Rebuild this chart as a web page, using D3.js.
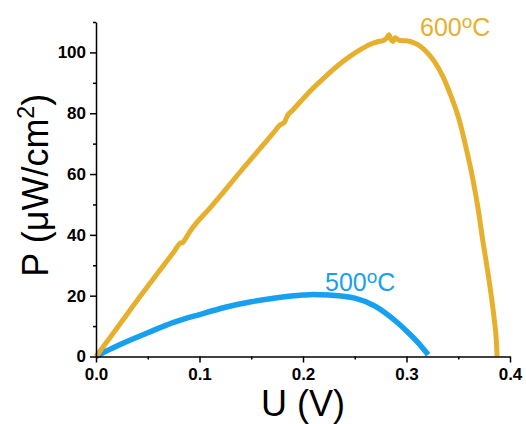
<!DOCTYPE html>
<html>
<head>
<meta charset="utf-8">
<title>P-U curves</title>
<script src="https://cdn.jsdelivr.net/npm/d3@7"></script>
<style>
  body { margin: 0; background: #fff; }
  svg { font-family: Arial, "Liberation Sans", sans-serif; }
  .tick text { font-size: 17px; font-weight: bold; fill: #000; }
  .domain, .tick line { stroke: #000; stroke-width: 1.5px; }
</style>
</head>
<body>
<div id="chart"></div>
<script>
// readings: U in volts, P in uW/cm2
var u600 = [0, 0.02, 0.0425, 0.06, 0.076, 0.081, 0.084, 0.088, 0.091, 0.11, 0.123, 0.14, 0.158, 0.172,
            0.178, 0.182, 0.185, 0.19, 0.205, 0.219, 0.232, 0.245, 0.255, 0.2645, 0.272, 0.278, 0.281,
            0.283, 0.285, 0.287, 0.289, 0.291, 0.294, 0.3, 0.306, 0.313, 0.319, 0.327, 0.335, 0.343,
            0.351, 0.358, 0.364, 0.369, 0.374, 0.378, 0.382, 0.385, 0.387, 0.3875];
var p600 = [0, 9.2, 19.7, 27.6, 34.8, 37.2, 37.6, 39.6, 41.2, 48.8, 54.0, 61.0, 68.2, 73.8,
            76.2, 77.0, 79.2, 81.0, 86.6, 91.2, 95.2, 98.6, 100.8, 102.6, 103.5, 104.0, 104.8,
            105.8, 104.2, 103.6, 104.8, 104.4, 103.9, 103.8, 103.3, 102.1, 100.3, 97.0, 92.2, 85.6,
            77.7, 68, 58.5, 49, 37.5, 29, 19.7, 11.5, 4, 0];

var u500 = [0, 0.01, 0.025, 0.05, 0.075, 0.1, 0.125, 0.15, 0.175, 0.2, 0.21, 0.225, 0.25,
            0.27, 0.29, 0.3, 0.31, 0.321];
var p500 = [0, 1.8, 4.2, 7.8, 11.2, 13.8, 16.2, 18.0, 19.3, 20.2, 20.4, 20.2, 19.2,
            16.5, 11.5, 8.4, 5.0, 0.6];

var xTicks = [0, 0.1, 0.2, 0.3, 0.4],
    xMinor = [0.05, 0.15, 0.25, 0.35],
    yTicks = [0, 20, 40, 60, 80, 100],
    yMinor = [10, 30, 50, 70, 90, 110];

var width = 526, height = 424;
var gold = '#e6b02e', blue = '#17a0f0';

var svg = d3.select('#chart').append('svg')
            .attr('width', width).attr('height', height);

var x = d3.scaleLinear().domain([0, 0.4]).range([96, 510]);
var y = d3.scaleLinear().domain([0, 110]).range([356.5, 22]);

// curves first, axes on top
var line = d3.line()
             .x(function(d) { return x(d[0]); })
             .y(function(d) { return y(d[1]); })
             .curve(d3.curveMonotoneX);

svg.append('path')
   .datum(d3.zip(u500, p500))
   .attr('d', line)
   .attr('fill', 'none')
   .attr('stroke', blue)
   .attr('stroke-width', 5.5);

svg.append('path')
   .datum(d3.zip(u600, p600))
   .attr('d', line)
   .attr('fill', 'none')
   .attr('stroke', gold)
   .attr('stroke-width', 5)
   .attr('stroke-linejoin', 'round');

// x axis
svg.append('g')
   .attr('transform', 'translate(0,' + y(0) + ')')
   .call(d3.axisBottom(x).tickValues(xMinor).tickSize(3).tickFormat(''))
   .select('.domain').remove();
svg.append('g')
   .attr('transform', 'translate(0,' + y(0) + ')')
   .call(d3.axisBottom(x).tickValues(xTicks).tickSize(6).tickSizeOuter(0).tickPadding(5)
           .tickFormat(d3.format('.1f')));

// y axis
svg.append('g')
   .attr('transform', 'translate(' + x(0) + ',0)')
   .call(d3.axisLeft(y).tickValues(yMinor).tickSize(3).tickFormat(''))
   .select('.domain').remove();
svg.append('g')
   .attr('transform', 'translate(' + x(0) + ',0)')
   .call(d3.axisLeft(y).tickValues(yTicks).tickSize(6).tickSizeOuter(0).tickPadding(4));

// axis titles
svg.append('text')
   .attr('x', (x(0) + x(0.4)) / 2)
   .attr('y', 416)
   .attr('text-anchor', 'middle')
   .style('font-size', '36px')
   .text('U (V)');

var yt = svg.append('text')
            .attr('transform', 'translate(48,' + ((y(0) + y(110)) / 2 - 4) + ') rotate(-90)')
            .attr('text-anchor', 'middle')
            .style('font-size', '36px');
yt.append('tspan').text('P (\u03bcW/cm');
yt.append('tspan').attr('dy', -14).style('font-size', '23px').text('2');
yt.append('tspan').attr('dy', 14).text(')');

// series labels
function tempLabel(tx, ty, num, color) {
    var t = svg.append('text')
               .attr('x', tx).attr('y', ty)
               .style('font-size', '25px')
               .attr('fill', color);
    t.append('tspan').text(num);
    t.append('tspan').attr('dy', -8).style('font-size', '19px').text('o');
    t.append('tspan').attr('dy', 8).text('C');
}
tempLabel(420, 36, '600', gold);
tempLabel(325, 291, '500', blue);
</script>
</body>
</html>
